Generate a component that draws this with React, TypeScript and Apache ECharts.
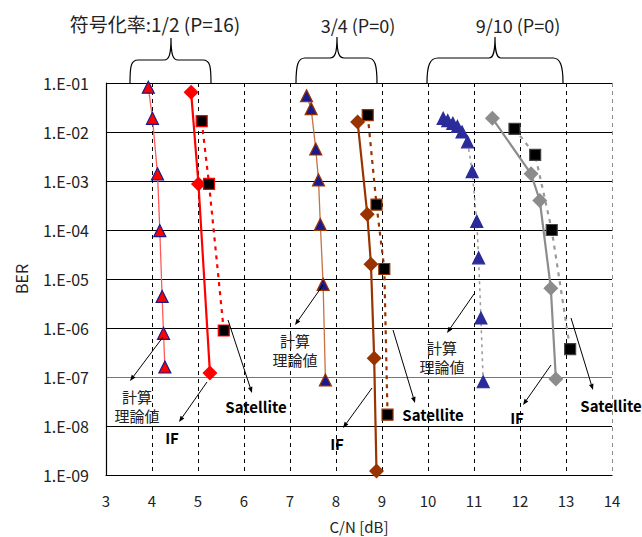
import React, { useEffect, useRef } from "react";
import * as echarts from "echarts";

// ---- data (C/N [dB], BER) ----
const xTicks = [3, 4, 5, 6, 7, 8, 9, 10, 11, 12, 13, 14];
const berTickExponents = [-9, -8, -7, -6, -5, -4, -3, -2, -1];

// Code rate 1/2 (P=16)
const r12TheoryCN = [3.92, 4.01, 4.12, 4.17, 4.22, 4.25, 4.28];
const r12TheoryBER = [0.082, 0.019, 1.4e-3, 9.7e-5, 4.4e-6, 7.8e-7, 1.6e-7];
const r12IfCN = [4.85, 5.01, 5.26];
const r12IfBER = [0.065, 8.7e-4, 1.2e-7];
const r12SatCN = [5.08, 5.24, 5.56];
const r12SatBER = [0.0167, 8.7e-4, 8.9e-7];

// Code rate 3/4 (P=0)
const r34TheoryCN = [7.36, 7.46, 7.56, 7.62, 7.66, 7.72, 7.77];
const r34TheoryBER = [0.055, 0.03, 4.5e-3, 1.05e-3, 1.3e-4, 7.8e-6, 8.7e-8];
const r34IfCN = [8.47, 8.68, 8.76, 8.83, 8.88];
const r34IfBER = [0.016, 2.1e-4, 2.0e-5, 2.4e-7, 1.2e-9];
const r34SatCN = [8.69, 8.88, 9.05, 9.12];
const r34SatBER = [0.022, 3.3e-4, 1.6e-5, 1.7e-8];

// Code rate 9/10 (P=0)
const r910TheoryCN = [10.33, 10.43, 10.54, 10.64, 10.74, 10.86, 10.96, 11.06, 11.1, 11.15, 11.2];
const r910TheoryBER = [0.019, 0.017, 0.015, 0.013, 0.01, 6.3e-3, 1.56e-3, 1.5e-4, 2.7e-5, 1.6e-6, 8e-8];
const r910IfCN = [11.4, 12.24, 12.43, 12.67, 12.78];
const r910IfBER = [0.019, 1.4e-3, 4.0e-4, 6.5e-6, 9.1e-8];
const r910SatCN = [11.88, 12.33, 12.69, 13.09];
const r910SatBER = [0.0116, 3.4e-3, 1.0e-4, 3.7e-7];

const groupTitles = ["符号化率:1/2 (P=16)", "3/4 (P=0)", "9/10 (P=0)"];
const calcLabel = "計算\n理論値";
const ifLabel = "IF";
const satLabel = "Satellite";

const zip = (xs: number[], ys: number[]) => xs.map((x, i) => [x, ys[i]]);

const FONT = '"Noto Sans CJK JP", "Noto Sans", sans-serif';

function arrow(x1: number, y1: number, x2: number, y2: number) {
  const dx = x2 - x1, dy = y2 - y1;
  const len = Math.hypot(dx, dy);
  const ux = dx / len, uy = dy / len;
  const hl = 6, hw = 2.3;
  const bx = x2 - ux * hl, by = y2 - uy * hl;
  return [
    { type: "line", shape: { x1, y1, x2: bx, y2: by }, style: { stroke: "#000", lineWidth: 1 }, z: 50 },
    {
      type: "polygon",
      shape: { points: [[x2, y2], [bx - uy * hw, by + ux * hw], [bx + uy * hw, by - ux * hw]] },
      style: { fill: "#000" },
      z: 50,
    },
  ];
}

function txt(text: string, x: number, y: number, font: string, fill = "#222", lineHeight?: number) {
  const style: any = { text, fill, font, align: "center", verticalAlign: "middle", textAlign: "center", textVerticalAlign: "middle" };
  if (lineHeight) style.lineHeight = lineHeight;
  return { type: "text", x, y, z: 50, style };
}

const bracePath =
  "M130,83 C130,66 131,60 138,60 L164,60 C169,60 171,55 171,38 C171,55 173,60 178,60 L203,60 C210,60 211,66 211,83 " +
  "M296,83 C296,65 298,58 305,58 L330,58 C335,58 337,53 337,37 C337,53 339,58 344,58 L368,58 C375,58 377,65 377,83 " +
  "M427,83 C427,65 430,58 438,58 L489,58 C493,58 495,53 495,37 C495,53 497,58 501,58 L553,58 C560,58 563,65 563,83";

let registered = false;

export default function App() {
  const ref = useRef<HTMLDivElement>(null);
  useEffect(() => {
    document.body.style.margin = "0";
    if (!registered) {
      echarts.graphic.registerShape("braces", echarts.graphic.extendPath(bracePath, {}) as any);
      registered = true;
    }
    const chart = echarts.init(ref.current!, null, { renderer: "svg" });

    const red = "#ff0000";
    const brown = "#993300";
    const gray = "#8c8c8c";
    const navy = "#1a1a8c";

    const theory = (name: string, data: number[][], lineColor: string, lineType: any, border: string, fill: string, w: number) => ({
      name,
      type: "line",
      data,
      symbol: "triangle",
      symbolSize: 12,
      lineStyle: { color: lineColor, width: w, type: lineType },
      itemStyle: { color: fill, borderColor: border, borderWidth: 1.2 },
      z: 3,
    });
    const ifS = (name: string, data: number[][], color: string) => ({
      name,
      type: "line",
      data,
      symbol: "diamond",
      symbolSize: 15,
      lineStyle: { color, width: 2.2 },
      itemStyle: { color, borderColor: color, borderWidth: 0 },
      z: 4,
    });
    const sat = (name: string, data: number[][], color: string, border: string) => ({
      name,
      type: "line",
      data,
      symbol: "rect",
      symbolSize: 11,
      lineStyle: { color, width: 2.2, type: [4, 5] },
      itemStyle: { color: "#000", borderColor: border, borderWidth: 1.2 },
      z: 4,
    });

    const graphics: any[] = [
      { type: "braces", x: 0, y: 0, style: { fill: "none", stroke: "#000", lineWidth: 1.2 }, z: 50 },
      txt(groupTitles[0], 155, 23, `19px ${FONT}`),
      txt(groupTitles[1], 358, 25, `18px ${FONT}`),
      txt(groupTitles[2], 518, 25, `18px ${FONT}`),
      // 1/2 annotations
      txt(calcLabel, 137, 406, `15px ${FONT}`, "#222", 19),
      txt(ifLabel, 172, 437, `bold 15px ${FONT}`, "#000"),
      txt(satLabel, 256, 406, `bold 15px ${FONT}`, "#000"),
      ...arrow(163, 337, 130, 381),
      ...arrow(207, 382, 179, 422),
      ...arrow(228, 320, 252, 393),
      // 3/4 annotations
      txt(calcLabel, 295, 350, `15px ${FONT}`, "#222", 19),
      txt(ifLabel, 337, 443, `bold 15px ${FONT}`, "#000"),
      txt(satLabel, 433, 414, `bold 15px ${FONT}`, "#000"),
      ...arrow(323, 285, 295, 325),
      ...arrow(372, 388, 343, 428),
      ...arrow(393, 330, 415, 403),
      // 9/10 annotations
      txt(calcLabel, 442, 357, `15px ${FONT}`, "#222", 19),
      txt(ifLabel, 517, 417, `bold 15px ${FONT}`, "#000"),
      txt(satLabel, 611, 405, `bold 15px ${FONT}`, "#000"),
      ...arrow(474, 294, 447, 333),
      ...arrow(551, 365, 523, 405),
      ...arrow(571, 318, 593, 390),
    ];

    const xSplitColors = xTicks.map((v) => (v === 14 ? "#888" : "#000"));
    const ySplitColors = berTickExponents.map((e) => (e === -1 || e === -7 ? "#777" : "#000"));

    chart.setOption({
      animation: false,
      backgroundColor: "#fff",
      grid: { left: 106, top: 83, width: 506, height: 392, containLabel: false, outerBoundsMode: "none" },
      xAxis: {
        type: "value",
        min: 3,
        max: 14,
        interval: 1,
        name: "C/N [dB]",
        nameLocation: "middle",
        nameGap: 44,
        nameTextStyle: { fontFamily: FONT, fontSize: 15, color: "#222" },
        axisLine: { lineStyle: { color: "#000", width: 1.2 } },
        axisTick: { show: false },
        axisLabel: { margin: 18, fontFamily: FONT, fontSize: 15, color: "#222" },
        splitLine: { show: true, lineStyle: { color: xSplitColors, type: [4, 4], width: 1 } },
      },
      yAxis: {
        type: "log",
        logBase: 10,
        min: 1e-9,
        max: 1e-1,
        name: "BER",
        nameLocation: "middle",
        nameGap: 77,
        nameTextStyle: { fontFamily: FONT, fontSize: 16, color: "#222" },
        axisLine: { show: true, lineStyle: { color: "#000", width: 1.2 } },
        axisTick: { show: false },
        axisLabel: {
          margin: 17,
          fontFamily: FONT,
          fontSize: 16,
          color: "#222",
          formatter: (v: number) => {
            const e = Math.round(Math.log10(v));
            const a = Math.abs(e);
            return `1.E${e < 0 ? "-" : "+"}${a < 10 ? "0" + a : a}`;
          },
        },
        splitLine: { show: true, lineStyle: { color: ySplitColors, width: 1.2 } },
      },
      series: [
        theory("1/2 計算理論値", zip(r12TheoryCN, r12TheoryBER), "#ff5a5a", "solid", navy, red, 1.3),
        ifS("1/2 IF", zip(r12IfCN, r12IfBER), red),
        sat("1/2 Satellite", zip(r12SatCN, r12SatBER), red, red),
        theory("3/4 計算理論値", zip(r34TheoryCN, r34TheoryBER), "#c87040", "solid", brown, navy, 1.3),
        ifS("3/4 IF", zip(r34IfCN, r34IfBER), brown),
        sat("3/4 Satellite", zip(r34SatCN, r34SatBER), brown, brown),
        theory("9/10 計算理論値", zip(r910TheoryCN, r910TheoryBER), "#999", [3, 4], "#2b2b99", "#2b2b99", 1.5),
        ifS("9/10 IF", zip(r910IfCN, r910IfBER), gray),
        sat("9/10 Satellite", zip(r910SatCN, r910SatBER), "#999", "#444"),
      ],
      graphic: graphics,
    });
    return () => chart.dispose();
  }, []);
  return <div ref={ref} style={{ width: 642, height: 537 }} />;
}
